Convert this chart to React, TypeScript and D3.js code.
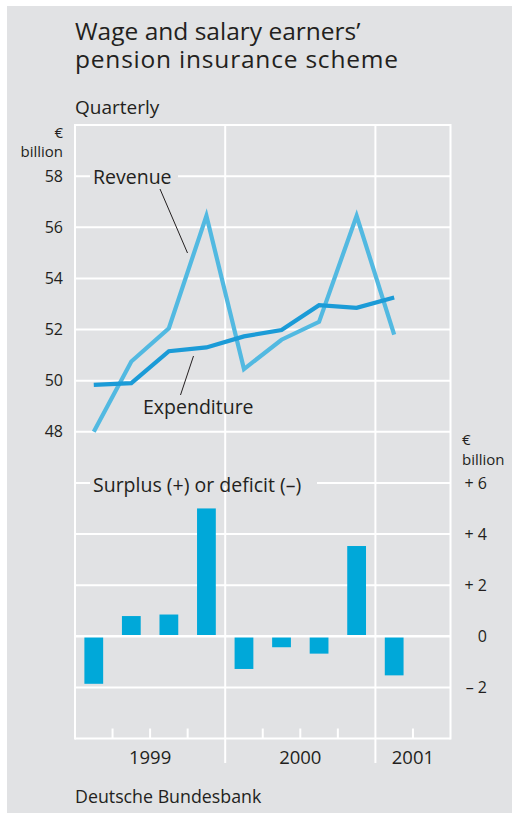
import React from "react";
import * as d3 from "d3";

const quarters = ["1999Q1","1999Q2","1999Q3","1999Q4","2000Q1","2000Q2","2000Q3","2000Q4","2001Q1","2001Q2"];
const revenue = [48.0, 50.75, 52.05, 56.45, 50.45, 51.6, 52.3, 56.45, 51.8];
const expenditure = [49.83, 49.9, 51.15, 51.3, 51.73, 51.98, 52.95, 52.85, 53.25];
const balance = [-1.86, 0.79, 0.85, 5.0, -1.28, -0.43, -0.68, 3.53, -1.53];
const years = [
  { label: "1999", start: 0, end: 4 },
  { label: "2000", start: 4, end: 8 },
  { label: "2001", start: 8, end: 10 },
];
const topTicks = [58, 56, 54, 52, 50, 48];
const bottomTicks = [6, 4, 2, 0, -2];
const bottomTickLabels = ["+ 6", "+ 4", "+ 2", "0", "\u2013 2"];

const W = 512, H = 813;
const FONT = "'Open Sans', sans-serif";
const BG = "#e1e2e4";
const TXT = "#231f20";
const GRID = "#ffffff";

export default function App() {
  const left = 75, right = 450.5, top = 125, bottom = 738.5;
  const unit = (bottom - top) / 24;
  const mid = top + 12 * unit;

  const xBand = d3.scaleBand<string>().domain(quarters).range([left, right]).paddingInner(0.5).paddingOuter(0.25);
  const step = xBand.step();
  const xC = (i: number) => left + step * (i + 0.5);
  const xEdge = (i: number) => left + step * i;

  const yTop = d3.scaleLinear().domain([48, 60]).range([mid, top]);
  const yBot = d3.scaleLinear().domain([-4, 8]).range([bottom, mid]);

  const line = d3.line<number>().x((_, i) => xC(i)).y((d) => yTop(d)).curve(d3.curveLinear);

  return (
    <div style={{ position: "absolute", left: 0, top: 0 }}>
      <svg width={W} height={H} style={{ display: "block" }} fontFamily={FONT}>
        <rect x={0} y={0} width={W} height={H} fill="#ffffff" />
        <rect x={7} y={6} width={W - 7} height={H - 6} fill={BG} />

        {/* Title */}
        <text x={75} y={40} fontSize={24.5} fill={TXT}>Wage and salary earners’</text>
        <text x={75} y={68} fontSize={24.5} fill={TXT} textLength={323} lengthAdjust="spacing">pension insurance scheme</text>
        <text x={75} y={114} fontSize={19} fill={TXT}>Quarterly</text>

        {/* gridlines */}
        {topTicks.map((t) => (
          <line key={"gt" + t} x1={left} x2={right} y1={yTop(t)} y2={yTop(t)} stroke={GRID} strokeWidth={2} />
        ))}
        {bottomTicks.filter((t) => t !== 0).map((t) => (
          <line key={"gb" + t} x1={left} x2={right} y1={yBot(t)} y2={yBot(t)} stroke={GRID} strokeWidth={2} />
        ))}
        {/* frame */}
        <line x1={left} x2={right} y1={top} y2={top} stroke={GRID} strokeWidth={2} />
        <line x1={left} x2={left} y1={top - 1} y2={bottom + 1} stroke={GRID} strokeWidth={2} />
        <line x1={right} x2={right} y1={top - 1} y2={bottom + 1} stroke={GRID} strokeWidth={2} />
        <line x1={left} x2={right} y1={bottom} y2={bottom} stroke={GRID} strokeWidth={2.2} />
        {years.slice(1).map((y) => (
          <line key={"ys" + y.label} x1={xEdge(y.start)} x2={xEdge(y.start)} y1={top} y2={763} stroke={GRID} strokeWidth={2} />
        ))}
        {quarters.map((q, i) => (i > 0 && i % 4 !== 0 ? (
          <line key={"qt" + q} x1={xEdge(i)} x2={xEdge(i)} y1={bottom} y2={bottom - 10} stroke={GRID} strokeWidth={2} />
        ) : null))}

        {/* Left axis */}
        <text x={63} y={138} fontSize={15} fill={TXT} textAnchor="end">€</text>
        <text x={63} y={157} fontSize={15} fill={TXT} textAnchor="end">billion</text>
        {topTicks.map((t) => (
          <text key={"lt" + t} x={63} y={yTop(t) + 5.5} fontSize={16} fill={TXT} textAnchor="end">{t}</text>
        ))}

        {/* Right axis */}
        <text x={462} y={445} fontSize={15} fill={TXT}>€</text>
        <text x={462} y={465} fontSize={15} fill={TXT}>billion</text>
        {bottomTicks.map((t, i) => (
          <text key={"rt" + t} x={487} y={yBot(t) + 6} fontSize={16} fill={TXT} textAnchor="end">{bottomTickLabels[i]}</text>
        ))}

        {/* Bars */}
        {balance.map((v, i) => (
          <rect key={"b" + i} x={xBand(quarters[i])!} width={xBand.bandwidth()}
            y={Math.min(yBot(v), yBot(0))} height={Math.abs(yBot(v) - yBot(0))} fill="#00a8d9" />
        ))}
        <line x1={left} x2={right} y1={yBot(0)} y2={yBot(0)} stroke={GRID} strokeWidth={2.5} />

        {/* Labels with background boxes */}
        <rect x={90} y={yTop(58) - 3} width={88} height={6} fill={BG} />
        <text x={93} y={183.5} fontSize={19.5} fill={TXT}>Revenue</text>
        <rect x={90} y={yBot(6) - 3} width={227} height={6} fill={BG} />
        <text x={93} y={491.5} fontSize={19.5} fill={TXT}>Surplus (+) or deficit (–)</text>
        <text x={143} y={414} fontSize={19.5} fill={TXT}>Expenditure</text>

        {/* leader lines */}
        <line x1={160} y1={189} x2={187.5} y2={253} stroke={TXT} strokeWidth={1} />
        <line x1={180.5} y1={395} x2={193.5} y2={356} stroke={TXT} strokeWidth={1} />

        {/* Lines */}
        <path d={line(revenue) || ""} fill="none" stroke="#52b9e1" strokeWidth={4.2} strokeLinejoin="miter" strokeMiterlimit={10} />
        <path d={line(expenditure) || ""} fill="none" stroke="#1b9bd7" strokeWidth={4.2} strokeLinejoin="miter" strokeMiterlimit={10} />

        {/* Year labels */}
        {years.map((y) => (
          <text key={"yl" + y.label} x={(xEdge(y.start) + xEdge(y.end)) / 2} y={763.5} fontSize={18.5} fill={TXT} textAnchor="middle">{y.label}</text>
        ))}

        <text x={75} y={802.5} fontSize={17.8} fill={TXT}>Deutsche Bundesbank</text>
      </svg>
    </div>
  );
}
